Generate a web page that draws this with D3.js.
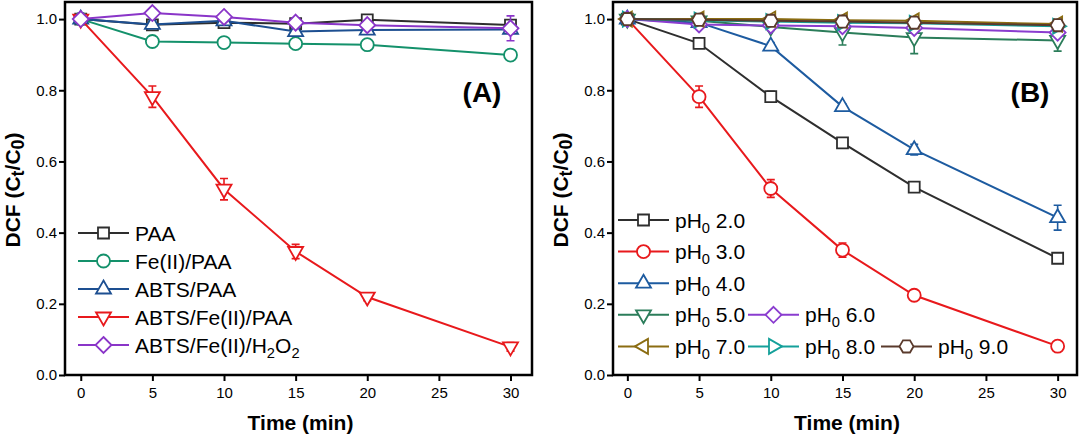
<!DOCTYPE html>
<html lang="en">

<head>
    <meta charset="UTF-8">
    <title>DCF removal</title>
    <script src="https://d3js.org/d3.v7.min.js"></script>
    <style>
        body {
            margin: 0;
            background: #fff;
        }

        svg {
            font-family: Arial, "Liberation Sans", sans-serif;
        }

        .tick text {
            font-size: 15px;
            fill: #000;
        }

        .tick line {
            stroke: #000;
            stroke-width: 2;
        }

        .legend text {
            font-size: 21px;
        }

        .title {
            font-size: 21px;
            font-weight: bold;
        }
    </style>
</head>

<body>
    <svg width="1080" height="438"></svg>

    <script>
        // sampling times (min)
        const time = [0, 5, 10, 15, 20, 30];
        const xTicks = [0, 5, 10, 15, 20, 25, 30];
        const yTicks = [0, 0.2, 0.4, 0.6, 0.8, 1.0];

        // panel A
        const namesA = ["PAA", "Fe(II)/PAA", "ABTS/PAA", "ABTS/Fe(II)/PAA", "ABTS/Fe(II)/H_2O_2"];
        const paa = [1.0, 0.984, 0.99, 0.987, 0.998, 0.983];
        const fePaa = [1.0, 0.937, 0.934, 0.931, 0.928, 0.899];
        const abtsPaa = [1.0, 0.985, 0.995, 0.965, 0.969, 0.971];
        const abtsFePaa = [1.0, 0.782, 0.522, 0.347, 0.219, 0.079];
        const abtsFeH2o2 = [1.0, 1.017, 1.006, 0.99, 0.983, 0.974];
        const errA = [
            [0, 0.005, 0.005, 0.005, 0.006, 0.008],
            [0, 0.012, 0.006, 0.005, 0.012, 0.008],
            [0, 0.01, 0.005, 0.01, 0.01, 0.01],
            [0.006, 0.03, 0.03, 0.02, 0.01, 0.012],
            [0, 0.006, 0.005, 0.006, 0.01, 0.035]
        ];

        // panel B
        const namesB = ["pH_0 2.0", "pH_0 3.0", "pH_0 4.0", "pH_0 5.0", "pH_0 6.0", "pH_0 7.0", "pH_0 8.0", "pH_0 9.0"];
        const ph2 = [1.0, 0.932, 0.782, 0.652, 0.528, 0.328];
        const ph3 = [1.0, 0.782, 0.524, 0.351, 0.224, 0.081];
        const ph4 = [1.0, 0.99, 0.924, 0.754, 0.633, 0.442];
        const ph5 = [1.0, 0.995, 0.978, 0.962, 0.948, 0.94];
        const ph6 = [1.0, 0.985, 0.982, 0.98, 0.975, 0.962];
        const ph7 = [1.0, 1.0, 1.0, 0.997, 0.995, 0.986];
        const ph8 = [1.0, 0.997, 0.993, 0.99, 0.988, 0.98];
        const ph9 = [1.0, 0.998, 0.995, 0.993, 0.99, 0.983];
        const errB = [
            [0, 0.005, 0.015, 0.006, 0.006, 0.008],
            [0, 0.03, 0.025, 0.02, 0.01, 0.006],
            [0, 0.005, 0.01, 0.008, 0.015, 0.035],
            [0, 0.005, 0.01, 0.035, 0.045, 0.03],
            [0, 0.005, 0.006, 0.006, 0.008, 0.01],
            [0, 0.005, 0.008, 0.006, 0.006, 0.01],
            [0, 0.005, 0.006, 0.006, 0.006, 0.01],
            [0, 0.005, 0.008, 0.006, 0.006, 0.01]
        ];

        // marker paths centred on 0,0
        const shapes = {
            square: "M-5.5,-5.5H5.5V5.5H-5.5Z",
            circle: "M6.5,0A6.5,6.5 0 1,1 -6.5,0A6.5,6.5 0 1,1 6.5,0Z",
            up: "M0,-8.5L7.5,4.5L-7.5,4.5Z",
            down: "M0,8.5L7.5,-4.5L-7.5,-4.5Z",
            diamond: "M0,-8L8,0L0,8L-8,0Z",
            left: "M-8.5,0L4.5,-7.5L4.5,7.5Z",
            right: "M8.5,0L-4.5,-7.5L-4.5,7.5Z",
            hex: "M7,0L3.5,-6.1L-3.5,-6.1L-7,0L-3.5,6.1L3.5,6.1Z"
        };

        const panels = [
            {
                label: "(A)", left: 65, right: 532, domain: [-1.1, 31.5],
                names: namesA, values: [paa, fePaa, abtsPaa, abtsFePaa, abtsFeH2o2], errs: errA,
                colors: ["#2e2e2e", "#14916b", "#1d4f91", "#e8191c", "#8a35c8"],
                shapes: ["square", "circle", "up", "down", "diamond"],
                legend: { x: 78, y: 233, dy: 28, cols: [[0, 0], [0, 1], [0, 2], [0, 3], [0, 4]] }
            },
            {
                label: "(B)", left: 613, right: 1077, domain: [-1, 31.35],
                names: namesB, values: [ph2, ph3, ph4, ph5, ph6, ph7, ph8, ph9], errs: errB,
                colors: ["#2e2e2e", "#e8191c", "#1d5ba0", "#2b7d5a", "#8a3ccf", "#8b6d12", "#14a09a", "#5a3a2c"],
                shapes: ["square", "circle", "up", "down", "diamond", "left", "right", "hex"],
                legend: { x: 618, y: 220, dy: 31.6, cols: [[0, 0], [0, 1], [0, 2], [0, 3], [130, 3], [0, 4], [130, 4], [263, 4]] }
            }
        ];

        const svg = d3.select("svg");
        const plotTop = 2, plotBottom = 375;

        // write "a_b" as a with subscript b
        function richText(sel, str) {
            const parts = str.split(/_(\w)/);
            parts.forEach((p, i) => {
                if (p === "") return;
                if (i % 2 === 1) {
                    sel.append("tspan").attr("dy", 5).attr("font-size", "0.7em").text(p);
                } else {
                    sel.append("tspan").attr("dy", i === 0 ? 0 : -5).text(p);
                }
            });
        }

        panels.forEach(p => {
            const x = d3.scaleLinear().domain(p.domain).range([p.left, p.right]);
            const y = d3.scaleLinear().domain([0, 1.048]).range([plotBottom, plotTop]);
            const g = svg.append("g");

            // axes
            g.append("g")
                .attr("transform", `translate(0,${plotBottom})`)
                .call(d3.axisBottom(x).tickValues(xTicks).tickSize(6).tickPadding(6))
                .call(a => a.select(".domain").remove());
            g.append("g")
                .attr("transform", `translate(${p.left},0)`)
                .call(d3.axisLeft(y).tickValues(yTicks).tickFormat(d3.format(".1f")).tickSize(6).tickPadding(2))
                .call(a => a.select(".domain").remove());

            // frame
            g.append("rect")
                .attr("x", p.left)
                .attr("y", plotTop)
                .attr("width", p.right - p.left)
                .attr("height", plotBottom - plotTop)
                .attr("fill", "none")
                .attr("stroke", "#000")
                .attr("stroke-width", 2.5);

            // titles
            g.append("text")
                .attr("class", "title")
                .attr("x", (p.left + p.right) / 2 + 2)
                .attr("y", 430)
                .attr("text-anchor", "middle")
                .text("Time (min)");

            const yt = g.append("text")
                .attr("class", "title")
                .attr("text-anchor", "middle")
                .attr("transform", `translate(${p.left - 45},190) rotate(-90)`);
            yt.append("tspan").text("DCF (C");
            yt.append("tspan").attr("dy", 4).attr("font-size", "0.85em").text("t");
            yt.append("tspan").attr("dy", -4).text("/C");
            yt.append("tspan").attr("dy", 4).attr("font-size", "0.85em").text("0");
            yt.append("tspan").attr("dy", -4).text(")");

            g.append("text")
                .attr("x", p.left + 417)
                .attr("y", 102)
                .attr("text-anchor", "middle")
                .attr("font-size", 28)
                .attr("font-weight", "bold")
                .text(p.label);

            const line = d3.line().x((d, i) => x(time[i])).y(d => y(d));

            p.values.forEach((vals, k) => {
                const c = p.colors[k];
                const s = g.append("g");

                s.append("path")
                    .attr("d", line(vals))
                    .attr("fill", "none")
                    .attr("stroke", c)
                    .attr("stroke-width", 2);

                // error bars
                vals.forEach((v, i) => {
                    const e = p.errs[k][i];
                    if (e <= 0.004) return;
                    const cx = x(time[i]);
                    s.append("path")
                        .attr("d", `M${cx},${y(v - e)}V${y(v + e)}M${cx - 4},${y(v - e)}H${cx + 4}M${cx - 4},${y(v + e)}H${cx + 4}`)
                        .attr("stroke", c)
                        .attr("stroke-width", 1.6)
                        .attr("fill", "none");
                });

                s.selectAll("path.mark")
                    .data(vals)
                    .join("path")
                    .attr("class", "mark")
                    .attr("d", shapes[p.shapes[k]])
                    .attr("transform", (d, i) => `translate(${x(time[i])},${y(d)})`)
                    .attr("fill", "#fff")
                    .attr("stroke", c)
                    .attr("stroke-width", 1.8);
            });

            // legend
            const lg = g.append("g").attr("class", "legend");
            p.names.forEach((name, k) => {
                const lx = p.legend.x + p.legend.cols[k][0];
                const ly = p.legend.y + p.legend.cols[k][1] * p.legend.dy;
                lg.append("line")
                    .attr("x1", lx).attr("x2", lx + 51)
                    .attr("y1", ly).attr("y2", ly)
                    .attr("stroke", p.colors[k])
                    .attr("stroke-width", 2);
                lg.append("path")
                    .attr("d", shapes[p.shapes[k]])
                    .attr("transform", `translate(${lx + 25.5},${ly})`)
                    .attr("fill", "#fff")
                    .attr("stroke", p.colors[k])
                    .attr("stroke-width", 1.8);
                const t = lg.append("text")
                    .attr("x", lx + 57)
                    .attr("y", ly + 7.5);
                richText(t, name);
            });
        });
    </script>
</body>

</html>
